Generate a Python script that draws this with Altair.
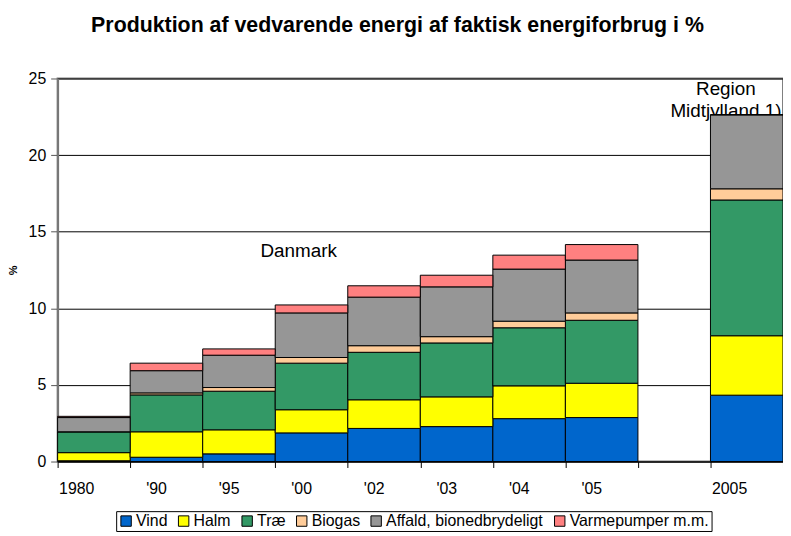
import altair as alt
import pandas as pd

categories = ["1980", "'90", "'95", "'00", "'02", "'03", "'04", "'05", " ", "2005"]
series = ["Vind", "Halm", "Træ", "Biogas", "Affald, bionedbrydeligt", "Varmepumper m.m."]
colors = ["#0066CC", "#FFFF00", "#339966", "#FFCC99", "#969696", "#FF8080"]

vind = [0.05, 0.28, 0.50, 1.87, 2.16, 2.28, 2.80, 2.87, 0, 4.33]
halm = [0.53, 1.66, 1.57, 1.51, 1.87, 1.94, 2.14, 2.24, 0, 3.88]
trae = [1.36, 2.41, 2.52, 3.04, 3.10, 3.52, 3.79, 4.11, 0, 8.86]
biogas = [0.00, 0.13, 0.24, 0.37, 0.43, 0.41, 0.43, 0.48, 0, 0.73]
affald = [0.93, 1.45, 2.11, 2.91, 3.17, 3.25, 3.40, 3.45, 0, 4.83]
varme = [0.08, 0.49, 0.41, 0.52, 0.74, 0.76, 0.91, 1.01, 0, 0.00]

y_ticks = [0, 5, 10, 15, 20, 25]

ann_text = ["Danmark", "Region", "Midtjylland 1)"]
ann_cat = ["'00", "2005", "2005"]
ann_y = [13.77, 24.3, 22.9]
ann_dx = [-13, -21, -21]

rows = []
for s_i, (name, vals) in enumerate(zip(series, [vind, halm, trae, biogas, affald, varme])):
    for c, v in zip(categories, vals):
        if c.strip() == "":
            continue
        rows.append({"cat": c, "serie": name, "value": v, "ord": s_i})
df = pd.DataFrame(rows)

ann = pd.DataFrame({"text": ann_text, "cat": ann_cat, "y": ann_y, "dx": ann_dx})

FONT = "Liberation Sans"

x_enc = alt.X(
    "cat:N",
    sort=categories,
    scale=alt.Scale(domain=categories, paddingInner=0, paddingOuter=0),
    axis=alt.Axis(
        title=None,
        labelAngle=0,
        labelFontSize=16,
        labelColor="black",
        labelFont=FONT,
        tickBand="extent",
        tickSize=6,
        tickColor="black",
        domainColor="black",
        labelPadding=21,
        grid=False,
    ),
)

bars = alt.Chart(df).mark_bar(stroke="black", strokeWidth=1).encode(
    x=x_enc,
    y=alt.Y(
        "sum(value):Q",
        stack="zero",
        scale=alt.Scale(domain=[0, 25], nice=False),
        axis=alt.Axis(
            title="%",
            values=y_ticks,
            labelFontSize=16,
            labelColor="black",
            labelFont=FONT,
            labelPadding=5,
            tickSize=7,
            tickColor="#555555",
            domainColor="#777777",
            domainWidth=2,
            grid=True,
            gridColor="black",
            gridWidth=1,
            titleFont=FONT,
            titleFontSize=11,
            titleFontWeight="bold",
            titleColor="black",
            titleX=-44,
            titleY=193,
            titleAngle=-90,
            titleBaseline="middle",
            titleAlign="center",
        ),
    ),
    color=alt.Color(
        "serie:N",
        sort=series,
        scale=alt.Scale(domain=series, range=colors),
        legend=alt.Legend(
            title=None,
            orient="none",
            legendX=59,
            legendY=436,
            direction="horizontal",
            symbolType="square",
            symbolSize=110,
            symbolStrokeColor="black",
            symbolStrokeWidth=1,
            symbolOpacity=1,
            labelFontSize=16,
            labelFont=FONT,
            labelColor="black",
            labelOffset=2,
            columnPadding=8,
            strokeColor="black",
            padding=2,
        ),
    ),
    order=alt.Order("ord:Q", sort="ascending"),
)

texts = alt.layer(*[
    alt.Chart(ann.iloc[[i]]).mark_text(font=FONT, fontSize=19, color="black", baseline="middle", dx=float(ann_dx[i])).encode(
        x=alt.X("cat:N", sort=categories),
        y=alt.Y("y:Q"),
        text="text:N",
    )
    for i in range(len(ann_text))
])

chart = alt.layer(texts, bars).properties(
    width=731,
    height=386,
    autosize=alt.AutoSizeParams(type="none"),
    padding={"left": 50, "top": 69, "right": 0, "bottom": 72},
    title=alt.TitleParams(
        "Produktion af vedvarende energi af faktisk energiforbrug i %",
        font=FONT,
        fontSize=21.5,
        fontWeight="bold",
        color="black",
        anchor="middle",
        dx=-23,
        offset=34,
    ),
).configure_view(stroke="#808080", strokeWidth=2).configure_axis(labelFont=FONT)

chart.save("out.html", embed_options={"renderer": "svg", "actions": False})
